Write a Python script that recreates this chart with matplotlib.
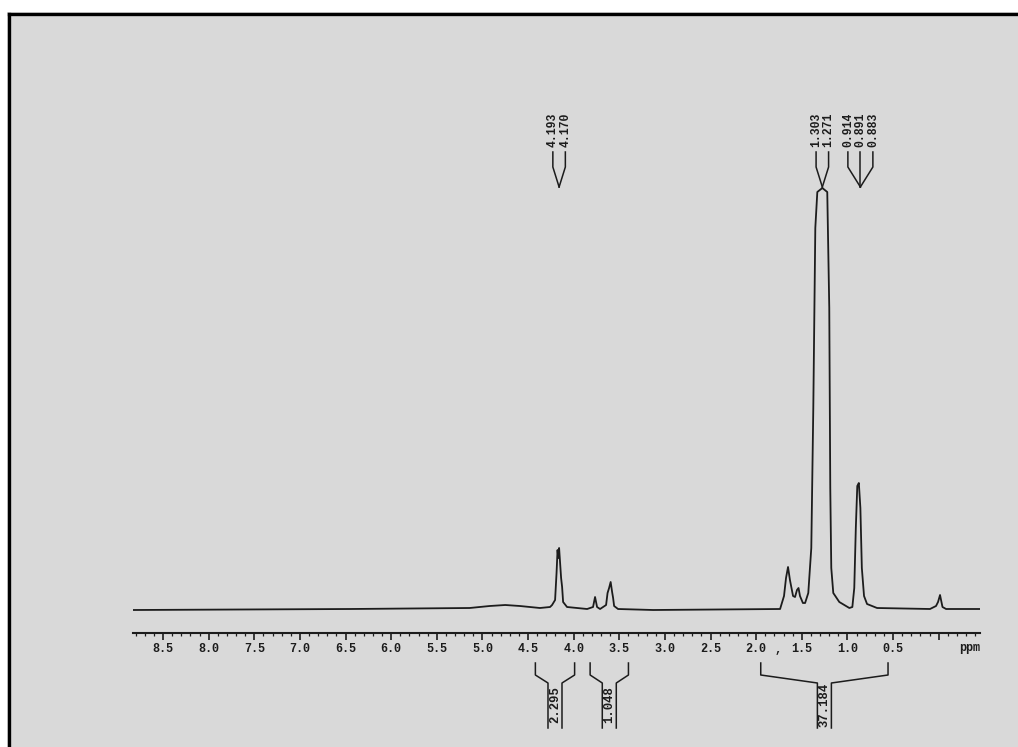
import numpy as np
import matplotlib
matplotlib.use("Agg")
import matplotlib.pyplot as plt
from matplotlib.patches import Rectangle
from matplotlib.lines import Line2D
from matplotlib.ticker import MultipleLocator, FuncFormatter

# ---- data ----
# trace: chemical shift (ppm) and intensity (arbitrary units, baseline = 0)
trace_ppm = [8.83, 6.45, 5.14, 4.92, 4.75, 4.59, 4.37, 4.259, 4.237, 4.204,
             4.188, 4.177, 4.169, 4.160, 4.149, 4.138, 4.127, 4.116, 4.073,
             3.853, 3.788, 3.766, 3.744, 3.711, 3.645, 3.629, 3.612, 3.595,
             3.579, 3.568, 3.557, 3.514, 3.130, 1.738, 1.695, 1.673, 1.651,
             1.630, 1.596, 1.574, 1.553, 1.536, 1.520, 1.488, 1.464, 1.429,
             1.396, 1.374, 1.352, 1.330, 1.275, 1.221, 1.199, 1.188, 1.177,
             1.155, 1.089, 0.979, 0.946, 0.925, 0.908, 0.892, 0.875, 0.858,
             0.842, 0.818, 0.785, 0.675, 0.095, 0.029, 0.007, -0.015, -0.026,
             -0.042, -0.081, -0.453]
trace_int = [-2, -1, 0, 2, 3, 2, 0, 1, 3, 8,
             35, 58, 50, 60, 45, 30, 21, 6, 1,
             -1, 1, 11, 1, -1, 3, 15, 20, 26,
             16, 10, 2, -1, -2, -1, 12, 30, 41,
             28, 12, 11, 18, 20, 12, 5, 5, 15,
             60, 200, 380, 416, 420, 416, 300, 120, 40,
             15, 6, 0, 1, 20, 80, 122, 125, 100,
             40, 12, 4, 0, -1, 2, 6, 13, 8,
             1, -1, -1]

# peak-pick labels: anchor shift and label texts
pick_anchor = [4.160, 1.275, 0.858]
pick_labels = [["4.193", "4.170"],
               ["1.303", "1.271"],
               ["0.914", "0.891", "0.883"]]

# integrals: start, end (ppm), value
integ_start = [4.42, 3.82, 1.95]
integ_end = [3.99, 3.40, 0.555]
integ_value = ["2.295", "1.048", "37.184"]

# axis scale
xmax, xmin = 8.83, -0.453
major_ticks = [0.0, 0.5, 1.0, 1.5, 2.0, 2.5, 3.0, 3.5, 4.0, 4.5,
               5.0, 5.5, 6.0, 6.5, 7.0, 7.5, 8.0, 8.5]

W, H = 1018, 747
ink = "#1c1c1c"
mono = dict(family="Liberation Mono", weight="bold", color=ink)

fig = plt.figure(figsize=(W / 100, H / 100), dpi=100, facecolor="white")

# scanned page: grey with heavy top/left border
fig.patches.append(Rectangle((7 / W, 0), 1, (H - 12) / H, transform=fig.transFigure,
                             facecolor="#d9d9d9", edgecolor="none", zorder=-2))
fig.lines.append(Line2D([8.5 / W, 1], [(H - 13.5) / H] * 2, transform=fig.transFigure,
                        color="black", lw=2.4, zorder=-1, solid_capstyle="projecting"))
fig.lines.append(Line2D([8.5 / W] * 2, [0, (H - 13.5) / H], transform=fig.transFigure,
                        color="black", lw=2.4, zorder=-1, solid_capstyle="projecting"))

# main spectrum axes (baseline at pixel row 608)
ax_l, ax_w = 133 / W, 847 / W
ax = fig.add_axes([ax_l, 0, ax_w, (H - 15) / H])
ax.set_facecolor("none")
ax.set_xlim(xmax, xmin)
ax.set_ylim(-139, 593)
ax.axis("off")

ax.plot(trace_ppm, trace_int, color=ink, lw=1.3, solid_joinstyle="round")

ppm_px = (xmax - xmin) / 847.0

# peak-pick labels (first label sits leftmost, i.e. at higher ppm)
for anchor, labels in zip(pick_anchor, pick_labels):
    n = len(labels)
    for i, lab in enumerate(labels):
        x = anchor - (i - (n - 1) / 2) * 12.5 * ppm_px
        ax.text(x, 478, lab, rotation=90, ha="center", va="center", fontsize=8.3, **mono)
        ax.plot([x, x, anchor], [456, 441, 421], color=ink, lw=1.1)

# integral brackets
for s, e, val in zip(integ_start, integ_end, integ_value):
    c = (s + e) / 2
    half = 7 * ppm_px
    ax.plot([s, s, c + half, c + half], [-55, -67, -75, -120], color=ink, lw=1.1)
    ax.plot([e, e, c - half, c - half], [-55, -67, -75, -120], color=ink, lw=1.1)
    ax.text(c, -97, val, rotation=90, ha="center", va="center", fontsize=8.8, **mono)

ax.text(-0.344, -40, "ppm", ha="center", va="center", fontsize=8.5, **mono)
ax.text(1.76, -42, ",", ha="center", va="center", fontsize=8.5, **mono)

# ppm scale
sx = fig.add_axes([ax_l, (H - 633) / H, ax_w, 0.5 / H])
sx.set_facecolor("none")
sx.set_xlim(xmax, xmin)
sx.set_yticks([])
for side in ["top", "left", "right"]:
    sx.spines[side].set_visible(False)
sx.spines["bottom"].set_linewidth(1.5)
sx.spines["bottom"].set_color(ink)
sx.set_xticks(major_ticks)
sx.xaxis.set_minor_locator(MultipleLocator(0.1))
sx.xaxis.set_major_formatter(FuncFormatter(lambda v, p: "" if v < 0.25 else "%.1f" % v))
sx.tick_params(axis="x", which="major", direction="out", length=5, width=1.2,
               color=ink, pad=2.5, labelsize=8.5)
sx.tick_params(axis="x", which="minor", direction="out", length=2.5, width=0.9, color=ink)
for t in sx.get_xticklabels():
    t.set_fontfamily("Liberation Mono")
    t.set_fontweight("bold")
    t.set_color(ink)

fig.savefig("out.png", dpi=100, facecolor="white")
